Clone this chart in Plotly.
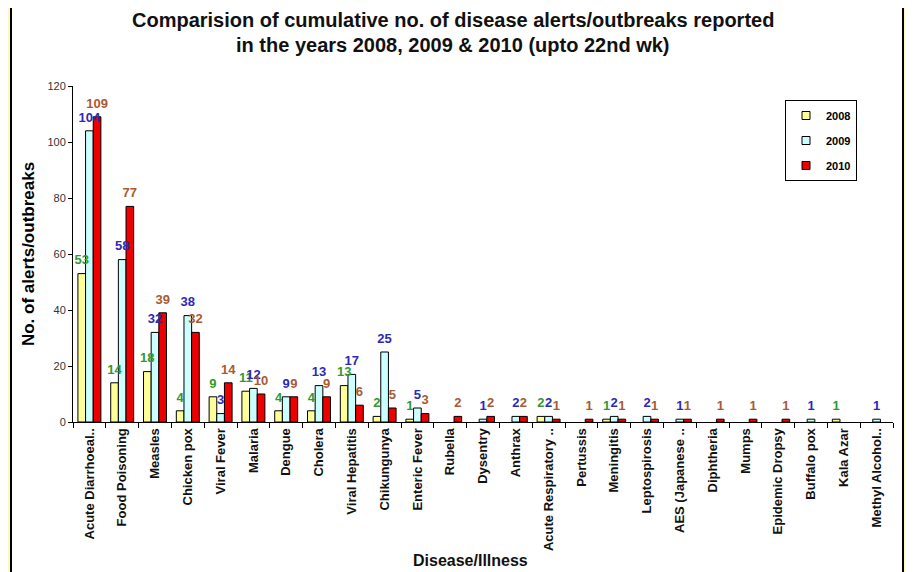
import plotly.graph_objects as go

categories = ["Acute Diarrhoeal..", "Food Poisoning", "Measles", "Chicken pox", "Viral Fever",
              "Malaria", "Dengue", "Cholera", "Viral Hepatitis", "Chikungunya", "Enteric Fever",
              "Rubella", "Dysentry", "Anthrax", "Acute Respiratory ..", "Pertussis", "Meningitis",
              "Leptospirosis", "AES (Japanese ..", "Diphtheria", "Mumps", "Epidemic Dropsy",
              "Buffalo pox", "Kala Azar", "Methyl Alcohol.."]

y2008 = [53, 14, 18, 4, 9, 11, 4, 4, 13, 2, 1, None, None, None, 2, None, 1, None, None,
         None, None, None, None, 1, None]
y2009 = [104, 58, 32, 38, 3, 12, 9, 13, 17, 25, 5, None, 1, 2, 2, None, 2, 2, 1,
         None, None, None, 1, None, 1]
y2010 = [109, 77, 39, 32, 14, 10, 9, 9, 6, 5, 3, 2, 2, 2, 1, 1, 1, 1, 1,
         1, 1, 1, None, None, None]

series_names = ["2008", "2009", "2010"]
bar_colors = ["#ffff99", "#ccffff", "#ee0000"]
label_colors = ["#2f9a2f", "#2a2ab8", "#a85a32"]

title_lines = ["Comparision of cumulative no. of disease alerts/outbreaks reported",
               "in the years 2008, 2009 &amp; 2010 (upto 22nd wk)"]
x_title = "Disease/Illness"
y_title = "No. of alerts/outbreaks"

# page body adds an 8px offset; screen coords = figure coords + OFF
OFF = 8
W, H = 913, 572
L, T = 73 - OFF, 86 - OFF
pw, ph = 820, 336
R = W - L - pw
B = H - T - ph

def px(X):
    return (X - OFF - L) / pw

def py(Y):
    return (H - B - (Y - OFF)) / ph

fig = go.Figure()
for name, vals, bc in zip(series_names, [y2008, y2009, y2010], bar_colors):
    fig.add_trace(go.Bar(
        x=categories, y=vals, name=name, showlegend=False, offsetgroup=name,
        marker=dict(color=bc, line=dict(color="black", width=1)),
    ))
# value labels drawn on top of all bars
for name, vals, lc in zip(series_names, [y2008, y2009, y2010], label_colors):
    fig.add_trace(go.Scatter(
        x=categories, y=vals, mode="markers+text", showlegend=False, offsetgroup=name,
        marker=dict(size=8, color="rgba(0,0,0,0)"), hoverinfo="skip",
        text=[("" if v is None else str(v)) for v in vals],
        textposition="top center", cliponaxis=False,
        textfont=dict(family="Liberation Sans, Arial, sans-serif", size=13, color=lc, weight="bold"),
    ))
# legend entries with small square swatches
for name, bc in zip(series_names, bar_colors):
    fig.add_trace(go.Scatter(
        x=[None], y=[None], mode="markers", name=name, legendgroup=name, offsetgroup=name,
        marker=dict(symbol="square", size=8, color=bc, line=dict(color="black", width=1)),
    ))

annotations = [
    dict(text=title_lines[0], xref="paper", yref="paper", x=px(453), y=py(20),
         xanchor="center", yanchor="middle", showarrow=False,
         font=dict(size=20, color="#111", weight="bold")),
    dict(text=title_lines[1], xref="paper", yref="paper", x=px(453), y=py(45),
         xanchor="center", yanchor="middle", showarrow=False,
         font=dict(size=20, color="#111", weight="bold")),
    dict(text=x_title, xref="paper", yref="paper", x=px(470), y=py(560),
         xanchor="center", yanchor="middle", showarrow=False,
         font=dict(size=16, color="#111", weight="bold")),
]

fig.update_layout(
    width=W, height=H,
    margin=dict(l=L, r=R, t=T, b=B, autoexpand=False),
    paper_bgcolor="#fff6c2",
    plot_bgcolor="rgba(0,0,0,0)",
    barmode="group", bargap=0.3, bargroupgap=0,
    scattermode="group", scattergap=0.3,
    font=dict(family="Liberation Sans, Arial, sans-serif", color="black"),
    annotations=annotations,
    legend=dict(
        x=px(785), y=py(100), xanchor="left", yanchor="top",
        bordercolor="black", borderwidth=1, bgcolor="white",
        font=dict(size=11, weight="bold"), tracegroupgap=6,
        itemwidth=30,
    ),
    xaxis=dict(
        tickangle=-90, tickson="boundaries", ticks="outside", ticklen=5,
        tickcolor="black", showline=True, linecolor="black", linewidth=1,
        tickfont=dict(size=13, weight="bold", color="#111"),
        automargin=False,
    ),
    yaxis=dict(
        range=[0, 120], dtick=20, ticks="outside", ticklen=4, tickcolor="black",
        showline=True, linecolor="black", linewidth=1, showgrid=False, zeroline=False,
        tickfont=dict(size=11, color="#333"),
        title=dict(text=y_title, font=dict(size=17, weight="bold"), standoff=8),
        automargin=False,
    ),
    shapes=[
        dict(type="rect", xref="paper", yref="paper", x0=px(11), x1=px(903), y0=py(580), y1=py(5),
             fillcolor="white", line=dict(color="black", width=2), layer="below"),
        dict(type="line", xref="paper", yref="paper", x0=px(11), x1=px(903), y0=py(1), y1=py(1),
             line=dict(color="black", width=1.5), layer="below"),
    ],
)

fig.write_html("out.html")
